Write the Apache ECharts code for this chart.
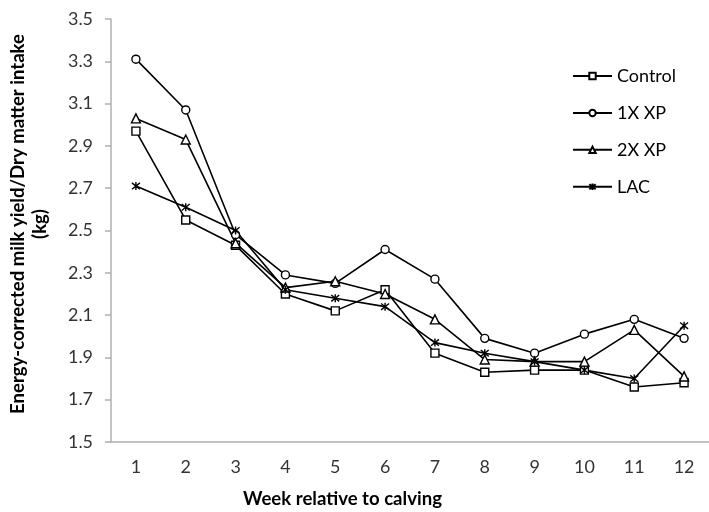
<!DOCTYPE html>
<html>
<head>
<meta charset="utf-8">
<script src="https://cdn.jsdelivr.net/npm/echarts@6/dist/echarts.min.js"></script>
<style>
html,body{margin:0;padding:0;background:#fff;}
#chart{width:709px;height:512px;}
</style>
</head>
<body>
<div id="chart"></div>
<script>
const weeks = ['1','2','3','4','5','6','7','8','9','10','11','12'];
const control = [2.97, 2.55, 2.43, 2.20, 2.12, 2.22, 1.92, 1.83, 1.84, 1.84, 1.76, 1.78];
const xp1 = [3.31, 3.07, 2.48, 2.29, 2.25, 2.41, 2.27, 1.99, 1.92, 2.01, 2.08, 1.99];
const xp2 = [3.03, 2.93, 2.44, 2.23, 2.26, 2.20, 2.08, 1.89, 1.88, 1.88, 2.03, 1.81];
const lac = [2.71, 2.61, 2.50, 2.22, 2.18, 2.14, 1.97, 1.92, 1.88, 1.84, 1.80, 2.05];
const seriesNames = ['Control', '1X XP', '2X XP', 'LAC'];
const yTitleLine1 = 'Energy-corrected milk yield/Dry matter intake';
const yTitleLine2 = '(kg)';
const xTitle = 'Week relative to calving';

const symbols = ['rect', 'circle', 'triangle', 'path://M1,1L9,9M9,1L1,9M5,0L5,10'];
const datasets = [control, xp1, xp2, lac];
const fam = 'Lato, "Open Sans", sans-serif';

// size fonts so text widths match the reference
const ctx = document.createElement('canvas').getContext('2d');
function fitSize(text, weight, target) {
  ctx.font = weight + ' 100px ' + fam;
  return 100 * target / ctx.measureText(text).width;
}
const titleFs = fitSize(xTitle, 'bold', 199);
const yTitleFs = fitSize(yTitleLine1, 'bold', 380);
const legendFs = fitSize('Control', 'normal', 59);
const tickFs = fitSize('1.5', 'normal', 25);
const yTitleCenter = 224;

const chart = echarts.init(document.getElementById('chart'), null, {renderer: 'canvas'});
chart.setOption({
  animation: false,
  backgroundColor: '#fff',
  grid: {left: 111, top: 19, width: 600, height: 423},
  legend: {
    orient: 'vertical', left: 567, top: 71 - legendFs / 2,
    itemWidth: 39, itemHeight: 8, itemGap: 36.9 - legendFs,
    data: seriesNames,
    textStyle: {fontSize: legendFs, fontFamily: fam, color: '#000', lineHeight: legendFs}
  },
  xAxis: {
    type: 'category', data: weeks, boundaryGap: true,
    axisLine: {lineStyle: {color: '#b0b0b0', width: 1.5}},
    axisTick: {length: 6, lineStyle: {color: '#b0b0b0', width: 1.5}},
    axisLabel: {fontSize: tickFs, fontFamily: fam, color: '#333', margin: 16}
  },
  yAxis: {
    type: 'value', min: 1.5, max: 3.5, interval: 0.2,
    axisLine: {show: true, lineStyle: {color: '#b0b0b0', width: 1.5}},
    axisTick: {show: true, length: 6, lineStyle: {color: '#b0b0b0', width: 1.5}},
    splitLine: {show: false},
    axisLabel: {fontSize: tickFs, fontFamily: fam, color: '#333', margin: 18,
      formatter: v => v.toFixed(1)}
  },
  graphic: [{
    type: 'text', x: 342.5, y: 499,
    style: {text: xTitle, font: 'bold ' + titleFs + 'px ' + fam, fill: '#000',
      textAlign: 'center', textVerticalAlign: 'middle'}
  }, {
    type: 'text', x: 18.5, y: yTitleCenter, rotation: Math.PI / 2,
    style: {text: yTitleLine1, font: 'bold ' + yTitleFs + 'px ' + fam, fill: '#000',
      textAlign: 'center', textVerticalAlign: 'middle'}
  }, {
    type: 'text', x: 18.5 + yTitleFs * 1.15, y: yTitleCenter, rotation: Math.PI / 2,
    style: {text: yTitleLine2, font: 'bold ' + yTitleFs + 'px ' + fam, fill: '#000',
      textAlign: 'center', textVerticalAlign: 'middle'}
  }],
  series: datasets.map((d, i) => ({
    name: seriesNames[i], type: 'line', data: d,
    symbol: symbols[i], symbolSize: i === 2 ? 9 : 8,
    showAllSymbol: true,
    lineStyle: {color: '#000', width: 1.6},
    itemStyle: {color: '#fff', borderColor: '#000', borderWidth: 1.4},
    emphasis: {disabled: true}
  }))
});
</script>
</body>
</html>
